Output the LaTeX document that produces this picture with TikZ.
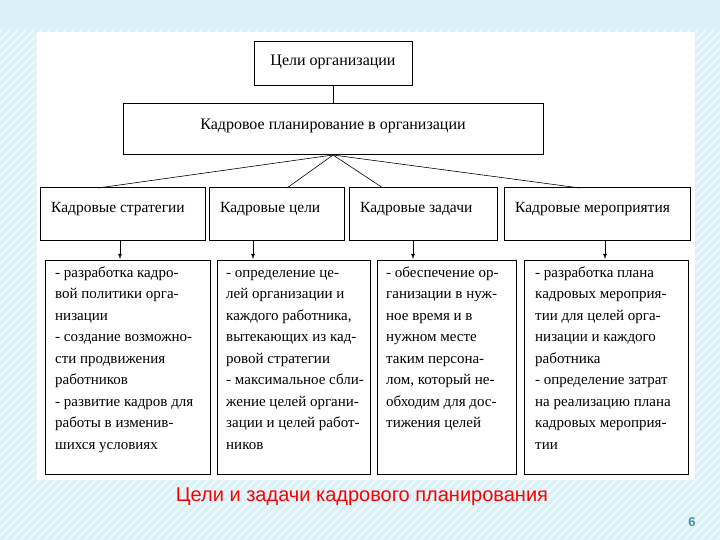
\documentclass[tikz,border=0pt]{standalone}
\usepackage{fontspec}
\setmainfont{Liberation Serif}
\newfontfamily\capfont{Liberation Sans}
\begin{document}
\begin{tikzpicture}[x=1pt,y=-1pt,
  bx/.style={draw,line width=1pt},
  lbl/.style={font=\fontsize{15.5}{17}\selectfont,anchor=west,inner sep=0pt},
  txt/.style={font=\fontsize{15}{21.5}\selectfont,anchor=north west,align=left,inner sep=0pt},
  ln/.style={line width=0.6pt},
  ar/.style={line width=0.8pt,-latex}]
\definecolor{bg}{RGB}{218,241,248}
\definecolor{hat}{RGB}{236,249,252}
\useasboundingbox (0,0) rectangle (720,540);
\fill[bg] (0,0) rectangle (720,540);
\begin{scope}
\clip (0,30) rectangle (720,540);
\foreach \i in {-540,-532,...,720} \draw[hat,line width=2pt] (\i,540) -- (\i+540,0);
\end{scope}
\fill[white] (37,32) rectangle (695,480);
% top
\draw[bx] (254,42) rectangle (412,86);
\node[font=\fontsize{16}{18}\selectfont] (t) at (333,62) {Цели организации};
\draw[bx] (123,104) rectangle (543,155);
\node[font=\fontsize{16}{18}\selectfont] (p) at (333,126) {Кадровое планирование в организации};
\coordinate (tb) at (333,86); \coordinate (pt) at (333,104); \coordinate (pb) at (333,155);
\draw[ln] (tb) -- (pt);
% row 3
\foreach \a/\b/\n/\s in {40/205/a/Кадровые стратегии,209/344/b/Кадровые цели,349/497/c/Кадровые задачи,504/690/d/Кадровые мероприятия}{
  \draw[bx] (\a,188) rectangle (\b,240);
  \node[lbl] (\n) at (\a+11,209) {\s};
}
\coordinate (ta) at (98,188); \coordinate (tb2) at (287,188);
\coordinate (tc) at (383,188); \coordinate (td) at (580,188);
\foreach \c in {ta,tb2,tc,td} \draw[ln] (pb) -- (\c);
% row 4
\foreach \a/\b in {45/210,217/370,377/516,524/688} \draw[bx] (\a,260) rectangle (\b,474);
\foreach \x in {120,253,413,605} {\coordinate (s\x) at (\x,241); \coordinate (e\x) at (\x,259); \draw[ar] (s\x) -- (e\x);}
\node[txt] (ba) at (55,262) {\strut- разработка кадро-\\вой политики орга-\\низации\\- создание возможно-\\сти продвижения\\работников\\- развитие кадров для\\работы в изменив-\\шихся условиях};
\node[txt] (bb) at (226,262) {\strut- определение це-\\лей организации и\\каждого работника,\\вытекающих из кад-\\ровой стратегии\\- максимальное сбли-\\жение целей органи-\\зации и целей работ-\\ников};
\node[txt] (bc) at (386,262) {\strut- обеспечение ор-\\ганизации в нуж-\\ное время и в\\нужном месте\\таким персона-\\лом, который не-\\обходим для дос-\\тижения целей};
\node[txt] (bd) at (535,262) {\strut- разработка плана\\кадровых мероприя-\\тии для целей орга-\\низации и каждого\\работника\\- определение затрат\\на реализацию плана\\кадровых мероприя-\\тии};
\node[font=\capfont\fontsize{20}{22}\selectfont,text=red] (cap) at (362,497) {Цели и задачи кадрового планирования};
\node[font=\capfont\bfseries\fontsize{13}{14}\selectfont,text={rgb,255:red,60;green,150;blue,170}] (num) at (692,522) {6};
\end{tikzpicture}
\end{document}
